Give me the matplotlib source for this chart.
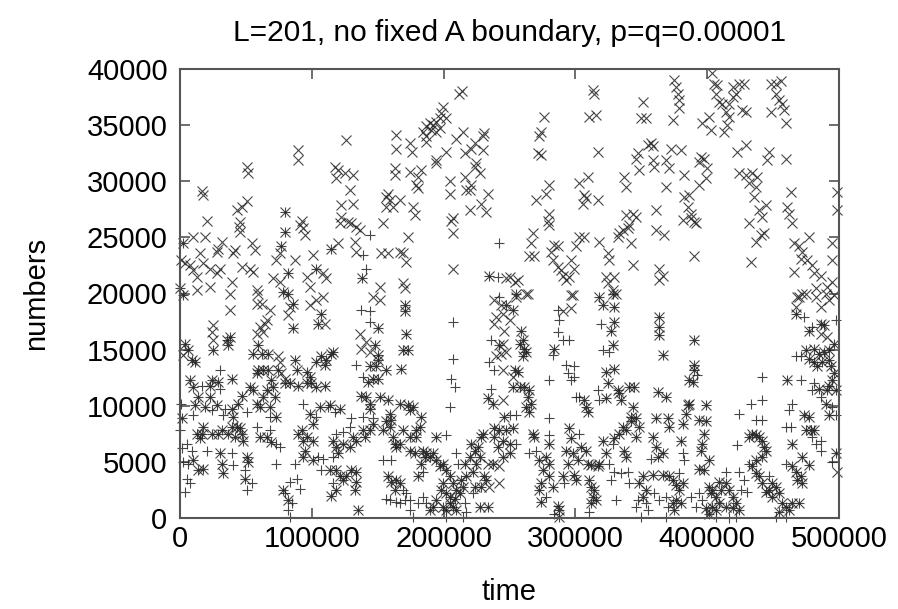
import numpy as np
import matplotlib
matplotlib.use("Agg")
import matplotlib.pyplot as plt
from matplotlib.ticker import FormatStrFormatter

plt.rcParams['font.family'] = ['Liberation Sans', 'DejaVu Sans']

# values, in thousands (time / 1000, numbers / 1000)

# points where both series coincide (drawn as + and x on top of each other)
both_t = [2.5, 78.3, 82.1, 85.9, 85.9, 107.3, 104.8, 150.2, 170.4, 170.4, 171.7,
          25.3, 37.9, 35.4, 36.6, 59.3, 3.8, 6.3, 8.8, 11.4,
          147.7, 150.2, 150.2, 149.0, 143.9, 142.7, 146.5, 150.2, 156.6, 169.2, 173.0, 167.9,
          55.6, 61.9, 66.9, 74.5, 87.1, 88.4, 96.0, 98.5, 99.7, 103.5, 107.3, 109.8, 111.1, 114.9, 116.2,
          24.0, 22.7, 29.0, 39.1, 53.0, 55.6, 58.1, 59.3, 63.1, 66.9, 69.4, 65.7, 70.7, 72.0, 79.5, 83.3,
          89.6, 96.0, 103.5, 109.8,
          7.6, 10.1, 13.9, 22.7, 18.9, 27.8, 39.1, 40.4, 44.2, 46.7, 58.1, 60.6, 63.1, 68.2, 73.2, 1.3, 11.4,
          242.4, 233.6, 237.4,
          98.5, 101.0, 106.1, 113.6, 121.2,
          137.6, 141.4, 143.9, 143.9, 151.5, 157.8, 159.1, 160.4, 166.7, 173.0, 176.8, 174.2, 183.1,
          131.3, 116.2, 118.7, 120.0, 123.7, 128.8, 133.8, 138.9, 140.2, 143.9, 146.5, 154.0, 156.6, 159.1,
          161.6, 162.9, 164.1, 166.7, 169.2, 174.2, 179.3, 181.8, 179.3, 174.2, 178.0, 184.3, 186.9, 189.4, 194.4,
          17.7, 16.4, 12.6, 15.2, 24.0, 29.0, 31.6, 36.6, 39.1, 42.9, 45.5, 46.7, 48.0, 41.7, 60.6, 65.7, 69.4,
          89.6, 92.2, 93.4, 94.7, 93.4, 96.0, 101.0,
          10.1, 13.9, 17.7, 30.3, 31.6, 32.8, 50.5, 51.8, 49.2,
          78.3, 82.1, 101.0, 113.6, 118.7, 121.2, 123.7, 126.3, 130.1, 133.8, 133.8, 132.6, 118.7, 114.9, 135.1,
          157.8, 160.4, 164.1, 166.7, 162.9,
          180.6, 183.1, 185.6, 191.9, 194.4, 197.0, 199.5, 202.0, 204.5, 207.1, 199.5, 198.2, 202.0, 204.5,
          208.3, 209.6, 212.1, 214.6, 213.4, 204.5, 199.5, 202.0, 207.1, 209.6, 194.4, 191.9, 189.4,
          217.2, 215.9, 219.7, 221.0, 223.5, 226.0, 228.5, 229.8, 227.3, 224.7, 222.2, 223.5, 228.5, 232.3,
          231.0, 237.4, 244.9, 241.1, 238.6, 242.4, 244.9, 238.6, 227.3, 233.6,
          247.5, 252.5, 255.0, 258.8, 260.1, 261.3, 260.1, 262.6, 257.6, 253.8, 256.3, 252.5, 257.6, 261.3,
          265.1, 263.9, 266.4, 262.6, 265.1, 246.2, 247.5, 252.5, 250.0, 250.0,
          284.1, 306.8, 308.1, 309.3, 318.2, 320.7, 328.3, 329.5, 329.5, 327.0, 328.3, 323.2, 329.5, 324.5,
          323.2, 332.0, 334.6, 333.3, 340.9, 344.7, 343.4, 342.1, 342.1, 345.9, 348.5, 345.9, 335.8, 338.4,
          337.1, 338.4, 333.3, 329.5, 320.7, 323.2, 318.2, 311.8, 309.3, 304.3, 308.1, 295.4, 296.7, 297.9,
          301.7, 300.5, 299.2, 292.9, 294.2, 290.4, 280.3, 280.3, 272.7, 275.2, 277.8, 267.7, 268.9, 274.0,
          272.7, 274.0, 280.3, 282.8, 286.6, 287.9, 287.9, 310.6, 311.8, 314.4, 313.1, 311.8, 315.6, 316.9,
          362.3, 368.7, 363.6, 363.6, 363.6, 366.1, 361.1, 369.9, 371.2, 358.6, 361.1, 362.3, 366.1, 358.6,
          351.0, 348.5, 353.5, 351.0, 366.1, 371.2, 373.7, 376.2, 378.8, 376.2, 380.0, 373.7, 375.0, 381.3,
          380.0, 381.3, 383.8, 385.1, 386.3, 393.9, 398.9, 398.9, 397.7, 396.4, 395.2, 401.5, 393.9, 397.7,
          388.9, 390.1, 386.3, 390.1, 390.1,
          401.5, 404.0, 406.5, 409.1, 410.3, 409.1, 414.1, 416.6, 419.2, 421.7, 424.2, 419.2, 414.1, 406.5,
          404.0, 401.5, 399.0, 402.7,
          431.8, 434.3, 436.8, 439.4, 441.9, 443.1, 444.4, 441.9, 436.8, 434.3, 436.8, 439.4, 441.9, 446.9,
          449.5, 454.5, 457.0, 459.6, 454.5, 462.1, 464.6, 469.7, 444.4, 449.5, 452.0,
          464.6, 467.1, 470.9, 472.2, 468.4, 472.2, 477.2, 464.6, 460.8, 473.4, 477.2, 478.5, 474.7, 481.0,
          492.4, 497.4, 489.9, 484.8, 491.1, 492.4, 494.9, 496.2, 493.6, 492.4, 487.3, 483.5, 481.0, 477.2,
          474.7, 481.0, 484.8, 488.6, 492.4, 486.1, 488.6, 477.2, 467.1, 496.2, 497.4,
          79.5, 79.5, 77.0, 2.5, 82.1, 103.5, 0.3, 114.9, 138.4, 234.8]
both_n = [19.9, 20.15, 20.0, 19.1, 16.9, 18.2, 17.3, 16.9, 19.0, 18.4, 16.4,
          14.95, 16.1, 15.85, 15.4, 15.4, 15.5, 14.95, 14.1, 13.9,
          15.4, 14.5, 14.1, 13.5, 13.5, 12.1, 12.4, 12.4, 13.2, 14.95, 14.95, 13.3,
          14.65, 14.65, 14.65, 13.2, 14.1, 13.2, 13.0, 12.6, 12.0, 13.9, 14.4, 13.6, 14.1, 14.65, 14.8,
          12.3, 11.8, 12.1, 12.4, 11.7, 11.4, 12.9, 13.2, 13.2, 13.2, 12.3, 11.4, 11.7, 10.8, 12.0, 12.0,
          11.8, 12.0, 11.7, 11.8,
          12.3, 11.7, 10.8, 10.8, 9.9, 10.05, 9.75, 9.0, 10.2, 10.9, 10.2, 9.9, 10.8, 9.9, 9.0, 8.9, 10.05,
          15.4, 10.65, 10.2,
          9.3, 8.4, 9.9, 10.05, 9.75,
          10.9, 10.8, 10.2, 9.75, 10.8, 10.5, 9.3, 8.7, 10.2, 10.05, 9.9, 9.6, 9.0,
          7.2, 6.9, 6.3, 5.75, 6.6, 6.3, 6.9, 7.8, 7.2, 7.8, 8.4, 7.8, 8.6, 8.1,
          7.2, 6.6, 6.3, 6.6, 7.8, 7.2, 7.8, 8.1, 7.2, 6.0, 5.75, 6.0, 5.75, 5.45, 7.2,
          8.1, 7.5, 7.5, 7.1, 7.5, 7.5, 7.8, 7.5, 8.1, 8.1, 8.0, 7.5, 6.9, 7.2, 7.2, 7.2, 6.8,
          7.5, 7.8, 6.9, 6.0, 5.45, 7.2, 6.9,
          5.15, 4.3, 4.4, 5.75, 4.85, 4.0, 5.45, 5.0, 3.5,
          2.5, 1.6, 5.15, 4.3, 4.3, 3.7, 3.4, 3.7, 4.3, 4.1, 3.2, 2.5, 2.5, 2.0, 0.7,
          3.7, 3.2, 3.4, 3.1, 2.5,
          3.7, 4.85, 5.45, 5.75, 5.15, 4.6, 4.85, 4.3, 3.7, 3.1, 3.1, 2.5, 2.2, 1.9,
          1.7, 2.5, 2.2, 2.8, 3.4, 1.3, 1.0, 0.7, 1.0, 0.7, 1.6, 1.0, 0.7,
          3.7, 4.85, 5.45, 6.6, 6.0, 6.3, 7.2, 7.5, 5.45, 4.85, 4.1, 2.8, 2.8, 3.4,
          3.7, 4.85, 5.45, 6.3, 7.2, 7.8, 6.9, 8.0, 1.0, 1.0,
          19.0, 18.5, 20.0, 16.7, 15.85, 15.1, 14.4, 14.8, 15.5, 13.2, 13.0, 11.7, 11.7, 11.7,
          11.4, 10.8, 10.2, 9.9, 9.45, 9.0, 7.8, 8.0, 6.6, 5.75,
          15.1, 10.5, 9.9, 9.45, 19.7, 19.0, 20.0, 18.8, 17.5, 16.7, 15.4, 13.0, 13.3, 12.0,
          10.65, 11.4, 10.5, 11.1, 11.7, 11.7, 9.9, 9.0, 8.6, 8.9, 8.1, 7.2, 8.1, 7.8,
          6.0, 5.45, 7.5, 7.1, 6.9, 5.75, 4.85, 4.7, 4.85, 6.3, 6.0, 8.0, 7.1, 5.75,
          5.15, 3.4, 3.8, 6.0, 4.85, 3.7, 6.6, 4.85, 5.15, 4.3, 5.45, 7.5, 7.2, 3.1,
          2.5, 1.4, 3.7, 2.8, 1.1, 0.7, 0.1, 3.4, 2.8, 2.5, 1.9, 1.3, 1.6, 4.6,
          11.2, 10.8, 17.9, 17.0, 16.3, 14.5, 8.9, 8.9, 8.1, 7.2, 6.3, 5.45, 5.75, 3.8,
          3.7, 3.1, 2.5, 1.9, 3.8, 3.7, 3.4, 2.9, 2.5, 1.6, 1.3, 1.3, 0.7, 3.1,
          6.9, 8.4, 9.3, 10.05, 10.2, 8.7, 8.6, 10.05, 7.5, 6.6, 6.0, 5.15, 4.4, 4.3,
          12.1, 13.2, 12.3, 13.6, 15.85,
          2.8, 2.5, 1.9, 1.3, 2.5, 3.2, 3.1, 2.5, 1.9, 1.3, 0.7, 0.85, 1.0, 0.7,
          1.0, 0.4, 0.85, 2.2,
          7.2, 7.5, 7.4, 7.2, 6.9, 6.3, 6.0, 5.45, 5.15, 4.6, 4.0, 3.7, 3.1, 2.5,
          1.9, 2.2, 1.3, 1.0, 0.55, 0.7, 1.3, 1.3, 2.3, 3.1, 2.8,
          4.6, 4.1, 3.7, 3.1, 3.4, 5.45, 4.7, 6.6, 12.3, 9.2, 9.0, 7.8, 7.8, 7.8,
          9.2, 5.75, 10.2, 11.5, 11.4, 11.8, 12.3, 12.9, 13.5, 14.1, 13.9, 13.5, 13.9, 14.2,
          14.95, 15.1, 14.65, 14.8, 14.95, 17.3, 17.2, 16.7, 18.2, 15.5, 11.4,
          27.3, 25.5, 24.2, 24.5, 21.8, 22.2, 20.45, 24.0, 21.35, 21.6]

# points shown only with "x"
cross_t = [37.9, 37.9, 59.3, 58.1, 61.9, 65.7, 64.4, 68.2, 83.3, 82.1, 98.5, 103.5, 109.8, 108.6,
           146.5, 151.5, 238.6, 243.7, 239.9, 238.6, 244.9, 25.3, 24.0, 25.3, 60.6, 58.1, 63.1, 2.5,
           136.4, 141.4, 143.9, 137.6, 74.5, 75.8, 77.0, 79.5, 243.7, 239.9, 244.9, 234.8, 233.6, 242.4,
           250.0, 262.6, 246.2, 244.9, 247.5, 252.5, 244.9, 242.4, 296.7, 296.7, 290.4, 498.7, 486.1,
           491.1, 469.7, 467.1, 474.7, 482.3, 486.1, 489.9, 496.2, 492.4, 247.5,
           # upper half, left
           211.6, 214.1, 199.5, 198.2, 197.0, 194.4, 191.9, 189.4, 186.9, 184.3, 186.9, 186.9, 190.6,
           194.4, 197.0, 202.0, 194.4, 193.9, 202.0, 209.6, 214.6, 231.0, 229.8, 223.5, 220.9, 215.9,
           229.8, 224.7, 223.5, 227.3, 215.9, 217.2, 219.7, 220.9, 233.6, 228.5, 219.7, 232.3, 204.5,
           204.5, 207.1, 205.8, 207.1, 207.1,
           164.1, 164.1, 174.2, 176.2, 162.9, 162.9, 174.2, 183.1, 180.5, 179.3, 180.5, 157.8, 156.6,
           159.1, 156.6, 161.6, 166.7, 176.8, 178.0, 154.0, 173.0, 157.8, 152.8, 166.7, 169.2, 171.7,
           169.2, 170.4, 151.5,
           126.3, 117.4, 118.7, 119.9, 125.0, 131.3, 128.8, 122.5, 131.3, 122.5, 121.2, 127.5, 130.0,
           133.8, 136.4, 132.6, 133.8, 119.9,
           89.6, 89.6, 50.5, 51.8, 16.4, 17.7, 20.2, 42.9, 46.7, 50.5, 45.5, 44.9, 45.5, 92.2, 90.9,
           93.4, 94.7, 75.8, 73.2, 87.1, 101.0, 54.3, 56.8, 53.0, 55.6, 46.7, 41.7, 40.4, 31.6, 29.0,
           27.8, 30.3, 27.8, 22.7, 22.7, 12.6, 10.1, 18.9, 0.5, 3.8, 7.6, 10.1, 12.6, 15.2, 17.7, 39.1,
           58.1, 70.7, 75.8, 96.0, 98.5, 108.6, 111.1,
           # upper half, right
           276.5, 274.0, 272.7, 271.4, 274.0, 313.1, 314.4, 310.6, 315.6, 316.9, 351.0, 349.7, 353.5,
           373.7, 375.0, 376.2, 377.5, 378.8, 378.8, 404.0, 405.3, 407.8, 406.5, 401.5, 396.4, 402.7,
           412.8, 415.4, 416.6, 414.1, 409.1, 411.6, 416.6, 419.2, 421.7, 419.2, 424.2, 428.0, 426.7,
           429.3, 448.2, 452.0, 455.8, 452.0, 454.5, 457.0, 458.3, 448.2, 459.6,
           357.3, 354.8, 358.6, 347.2, 345.9, 348.5, 358.6, 359.8, 368.7, 371.2, 372.4, 380.0, 395.2,
           397.7, 393.9, 400.2, 399.0, 393.9, 382.5, 368.7, 422.9, 429.3, 446.9, 445.7, 459.6,
           337.1, 338.4, 303.0, 309.3, 306.8, 305.5, 316.9, 308.0, 280.3, 277.8, 270.2, 280.3, 279.0,
           280.3, 361.1, 382.5, 386.3, 385.1, 387.6, 390.1, 381.3, 391.4, 387.6,
           424.2, 429.3, 431.8, 434.3, 438.1, 436.8, 435.6, 444.4, 439.4, 441.9, 431.8, 436.8, 443.1,
           440.6, 463.3, 460.8, 462.1, 464.6, 465.9, 469.7, 472.2, 477.2, 470.9, 476.0, 479.8, 494.9,
           494.9, 498.7, 498.7, 465.9, 481.0, 486.1, 491.1, 494.9, 482.3, 468.4, 472.2,
           343.4, 345.9, 338.4, 333.3, 335.8, 339.6, 340.9, 332.0, 342.1, 361.1, 367.4, 318.2, 343.4,
           363.6, 366.1, 363.6, 390.1, 433.0,
           267.7, 266.4, 265.1, 268.9, 284.1, 286.6, 281.5, 282.8, 286.6, 289.1, 290.4, 292.9, 295.4,
           296.7, 299.2, 300.5, 303.0, 306.8, 324.5, 325.7, 323.2, 329.5, 324.5, 328.3, 330.8, 250.0,
           253.8, 256.3, 255.0, 263.9, 297.9]
cross_n = [20.0, 18.5, 20.0, 19.1, 19.1, 17.6, 17.3, 18.5, 18.8, 18.1, 19.0, 19.4, 17.3, 19.7,
           19.7, 19.4, 19.4, 19.0, 17.9, 17.3, 18.2, 17.2, 16.6, 15.85, 17.0, 16.4, 16.6, 14.5,
           16.4, 15.7, 14.8, 15.1, 14.4, 13.9, 12.9, 12.4, 14.65, 14.4, 13.2, 2.8, 4.85, 4.6,
           17.6, 20.0, 16.7, 15.5, 14.8, 12.6, 10.5, 3.1, 19.9, 18.7, 18.4, 4.1, 16.4,
           16.1, 19.7, 18.8, 20.0, 19.7, 18.8, 20.0, 19.9, 19.4, 21.35,
           37.8, 38.0, 36.6, 36.05, 35.6, 35.3, 35.0, 35.2, 34.9, 34.4, 34.0, 33.5, 34.6,
           34.4, 34.7, 35.6, 31.9, 31.6, 32.6, 33.8, 34.4, 34.3, 34.0, 33.4, 32.9, 32.5,
           32.8, 31.6, 31.3, 30.7, 30.4, 29.2, 29.2, 29.7, 28.9, 28.0, 27.4, 27.3, 30.0,
           28.9, 26.7, 26.5, 25.4, 22.2,
           34.1, 32.9, 33.4, 32.6, 31.15, 30.55, 30.85, 31.0, 30.4, 29.7, 29.4, 28.9, 28.6,
           28.3, 27.7, 27.7, 28.3, 27.7, 27.0, 26.25, 25.06, 23.6, 23.6, 23.7, 23.6, 22.8,
           20.9, 20.45, 20.6,
           33.7, 31.3, 30.3, 31.0, 30.7, 30.55, 29.2, 27.9, 28.0, 26.8, 26.25, 26.4, 26.25,
           25.95, 25.65, 24.6, 23.7, 24.5,
           32.8, 31.9, 31.3, 30.7, 29.1, 28.8, 26.5, 27.4, 27.7, 28.2, 26.4, 25.95, 25.5, 26.5, 26.1,
           25.8, 25.2, 23.6, 23.0, 23.0, 23.4, 24.5, 23.9, 22.2, 21.9, 22.4, 23.9, 23.6, 24.6, 24.0,
           23.7, 22.2, 21.8, 22.2, 20.6, 20.3, 25.06, 25.06, 23.0, 22.7, 22.5, 22.1, 21.5, 23.6, 22.7, 21.05,
           20.3, 21.35, 21.05, 21.5, 20.6, 21.8, 21.35,
           35.75, 34.4, 34.0, 32.5, 32.3, 38.1, 37.8, 35.75, 35.9, 32.6, 37.1, 35.6, 35.6,
           35.45, 39.0, 38.4, 37.8, 37.2, 36.5, 39.6, 38.7, 38.6, 37.8, 35.75, 35.2, 34.6,
           34.4, 35.0, 35.75, 36.2, 37.1, 36.9, 36.9, 37.5, 37.8, 38.4, 38.7, 38.7, 36.35,
           36.2, 38.7, 38.7, 38.9, 37.8, 37.2, 36.9, 36.35, 36.2, 35.2,
           33.4, 33.2, 33.1, 32.5, 32.0, 31.0, 31.9, 31.3, 31.9, 31.15, 32.9, 32.8, 32.2,
           32.0, 31.7, 31.15, 30.26, 29.66, 30.55, 29.5, 32.6, 33.2, 32.6, 31.9, 32.0,
           30.4, 29.5, 29.8, 30.4, 28.77, 28.0, 28.3, 28.5, 29.66, 28.9, 28.3, 27.1, 26.5,
           26.1, 27.4, 28.6, 28.77, 27.7, 27.1, 26.4, 26.54, 26.25, 26.7,
           30.7, 30.55, 29.8, 30.7, 30.4, 29.5, 28.6, 27.9, 27.4, 26.84, 26.25, 24.6, 25.36,
           25.2, 29.07, 27.7, 27.1, 26.25, 24.5, 24.2, 23.7, 25.06, 23.1, 23.0, 22.5, 24.5,
           23.0, 29.07, 27.4, 21.9, 21.8, 21.6, 20.6, 21.05, 20.45, 19.7, 20.0,
           27.1, 26.84, 27.0, 25.36, 25.65, 25.8, 26.1, 25.06, 24.5, 25.65, 25.2, 24.6, 22.5,
           22.2, 21.6, 21.2, 23.3, 22.8,
           25.36, 24.5, 23.3, 23.3, 24.3, 24.2, 23.7, 23.0, 22.4, 22.1, 21.6, 21.2, 21.5,
           23.0, 22.2, 24.2, 25.06, 25.06, 23.6, 23.0, 21.5, 21.5, 20.9, 20.3, 20.0, 21.5,
           21.05, 21.2, 19.7, 20.0, 19.9]

# points shown only with "+"
plus_t = [137.6, 143.9, 143.9, 207.1, 133.8, 138.9, 207.1, 205.8, 208.3, 204.5, 30.3, 30.3, 16.4,
          24.0, 34.1, 32.8, 50.5, 68.2, 0.5, 10.1, 236.1, 238.6, 234.8, 236.1, 93.4, 103.5, 112.4,
          117.4, 138.9, 146.5, 130.1, 128.8, 123.7, 118.7, 202.0, 209.6, 58.1, 68.2, 73.2, 75.8,
          104.8, 108.6, 116.2, 0.3, 5.1, 8.8, 1.3, 2.5, 6.3, 20.2, 39.1, 40.4, 49.2, 54.3, 50.5,
          5.1, 3.8, 7.6, 73.2, 87.1, 88.4, 83.3, 90.9, 79.5, 84.6, 82.1, 83.3, 107.3, 116.2, 154.0,
          160.4, 169.2, 171.7, 170.4, 166.7, 174.2, 156.6, 159.1, 164.1, 174.2, 176.8, 184.3, 186.9,
          184.3, 180.6, 214.6, 217.2, 202.0, 215.9, 222.2, 210.9,
          242.4, 250.0, 255.0, 255.0, 286.6, 287.9, 286.6, 290.4, 295.4, 282.8, 292.9, 299.2, 294.2,
          296.7, 299.2, 280.3, 303.0, 300.5, 319.4, 320.7, 325.7, 318.2, 316.9, 328.3, 303.0, 291.6,
          270.2, 265.1, 280.3, 280.3, 277.8, 284.1, 310.6, 325.7, 327.0, 330.8, 329.5, 334.6, 339.6,
          340.9, 357.3, 347.2, 353.5, 354.8, 349.7, 345.9, 359.8, 363.6, 368.7, 369.9, 368.7, 378.8,
          382.5, 381.3, 393.9, 396.4, 391.4, 387.6, 392.6, 406.5, 416.6, 421.7, 425.5, 430.5, 428.0,
          424.2, 414.1, 422.9, 424.2, 431.8, 452.0, 459.6, 446.9, 436.8, 441.9, 433.0, 441.9, 441.9,
          459.6, 459.6, 463.3, 462.1, 464.6, 470.9, 482.3, 486.1, 486.1, 479.8, 497.4, 494.9, 486.1,
          479.8, 481.0, 470.9, 467.1, 473.4, 479.8, 497.4, 494.9,
          143.9, 141.4, 138.9, 242.4, 241.1]
plus_n = [18.5, 18.4, 17.5, 17.5, 13.6, 12.6, 14.2, 12.4, 11.7, 9.9, 13.2, 11.5, 11.8,
          9.6, 9.75, 9.2, 9.45, 9.0, 10.2, 9.2, 15.85, 13.2, 13.9, 11.5, 10.2, 9.0, 9.9,
          9.45, 9.0, 8.9, 8.9, 8.1, 7.7, 7.5, 7.4, 5.75, 8.1, 7.8, 6.6, 6.3,
          5.45, 5.3, 5.45, 7.8, 6.6, 6.0, 6.2, 5.0, 4.85, 6.0, 5.75, 4.7, 4.3, 3.1, 2.5,
          3.5, 2.3, 3.1, 4.85, 4.85, 3.5, 3.2, 2.6, 2.2, 1.3, 0.7, 0.1, 4.3, 3.1, 5.15,
          5.15, 2.5, 2.2, 1.6, 1.3, 1.6, 1.7, 1.6, 1.4, 0.7, 0.1, 4.1, 1.3,
          1.9, 1.3, 0.1, 0.55, 0.1, 1.3, 2.2, 4.85,
          19.7, 9.2, 9.2, 6.6, 18.5, 17.6, 16.6, 15.85, 15.85, 14.5, 13.6, 13.5, 12.9,
          12.3, 12.6, 12.3, 10.8, 10.8, 17.3, 14.95, 14.8, 10.5, 11.4, 6.6, 7.5, 3.1,
          6.0, 5.75, 7.4, 8.9, 1.9, 0.4, 0.55, 4.85, 3.4, 1.6, 4.1, 4.0, 4.1,
          3.1, 5.3, 1.6, 1.3, 0.7, 0.1, 1.0, 2.2, 1.6, 1.9, 1.0, 0.1, 4.0,
          5.15, 5.75, 2.2, 1.6, 1.0, 1.9, 12.7, 0.1, 0.0, 0.1, 2.5, 2.3, 3.4,
          4.1, 4.1, 6.5, 9.3, 4.85, 0.1, 0.1, 3.7, 8.7, 8.7, 10.2, 10.5, 12.6,
          4.85, 8.1, 8.1, 9.6, 10.2, 12.3, 6.6, 6.9, 6.0, 7.2, 9.2, 5.0, 10.8,
          11.4, 12.0, 14.4, 14.4, 17.9, 17.0, 17.6, 9.9,
          25.2, 22.2, 23.4, 24.5, 21.5]

title = "L=201, no fixed A boundary, p=q=0.00001"
x_ticks = [0, 100000, 200000, 300000, 400000, 500000]
y_ticks = [0, 5000, 10000, 15000, 20000, 25000, 30000, 35000, 40000]

fig = plt.figure(figsize=(8.98, 6.09), dpi=100)
ax = fig.add_axes([180 / 898, 91 / 609, 659 / 898, 449 / 609])

mk = dict(linestyle='none', color='#262626', markersize=7, markeredgewidth=0.8,
          alpha=0.85, clip_on=False)

pt = np.array(plus_t) * 1000
pn = np.array(plus_n) * 1000
ct = np.array(cross_t) * 1000
cn = np.array(cross_n) * 1000
bt = np.array(both_t) * 1000
bn = np.array(both_n) * 1000

ax.plot(pt, pn, marker='+', **mk)
ax.plot(bt, bn, marker='+', **mk)
ax.plot(ct, cn, marker='x', **mk)
ax.plot(bt, bn, marker='x', **mk)

ax.set_xlim(0, 500000)
ax.set_ylim(0, 40000)
ax.set_xticks(x_ticks)
ax.set_yticks(y_ticks)
ax.xaxis.set_major_formatter(FormatStrFormatter('%d'))
ax.yaxis.set_major_formatter(FormatStrFormatter('%d'))
ax.tick_params(direction='in', length=7, width=1.2, color='#555555',
               top=True, right=True, labelsize=21)
ax.tick_params(axis='x', pad=5)
ax.tick_params(axis='y', pad=9)
for s in ax.spines.values():
    s.set_color('#555555')
    s.set_linewidth(1.5)

ax.set_title(title, fontsize=21.5, pad=20)
ax.set_xlabel("time", fontsize=21, labelpad=18)
ax.set_ylabel("numbers", fontsize=21, labelpad=26)

fig.savefig("out.png", dpi=100)
